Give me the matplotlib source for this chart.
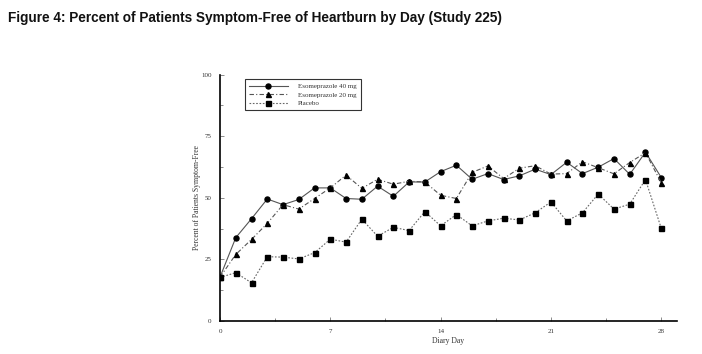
import numpy as np
import matplotlib
matplotlib.use("Agg")
import matplotlib.pyplot as plt
from matplotlib.ticker import MultipleLocator

days = list(range(29))

eso40 = [17.8, 33.8, 41.5, 49.5, 47.2, 49.3, 54.0, 54.0, 49.7, 49.4, 54.7, 50.6, 56.4, 56.4, 60.6,
         63.2, 57.5, 59.8, 57.4, 58.9, 61.6, 59.4, 64.4, 59.8, 62.4, 65.9, 59.5, 68.5, 58.2]
eso20 = [17.8, 27.0, 33.1, 39.6, 47.2, 45.4, 49.7, 54.0, 59.2, 53.8, 57.5, 55.5, 56.7, 56.4, 51.0,
         49.7, 60.3, 62.9, 57.8, 62.0, 63.0, 59.6, 59.8, 64.6, 62.2, 59.7, 64.3, 68.3, 56.1]
placebo = [17.7, 19.6, 15.5, 26.1, 25.9, 25.2, 27.7, 33.2, 32.0, 41.3, 34.4, 38.0, 36.7, 44.4, 38.6,
           43.2, 38.6, 40.6, 41.7, 41.0, 43.9, 48.3, 40.6, 43.9, 51.5, 45.4, 47.4, 57.4, 37.6]

labels = ["Esomeprazole 40 mg", "Esomeprazole 20 mg", "Placebo"]

fig = plt.figure(figsize=(7.02, 3.54), dpi=100)
ax = fig.add_axes([0.3134, 0.0932, 0.651, 0.6963])

lc = "#555555"
ms = 3.6
ax.plot(days, eso40, "-", color=lc, lw=0.8, marker="o", ms=ms, mfc="black", mec="black", label=labels[0])
ax.plot(days, eso20, "-.", color=lc, lw=0.8, marker="^", ms=ms, mfc="black", mec="black", label=labels[1],
        dashes=(4, 2, 1, 2))
ax.plot(days, placebo, "--", color="#666666", lw=0.8, marker="s", ms=ms, mfc="black", mec="black",
        label=labels[2], dashes=(1.5, 1.5))

ax.set_xlim(0, 29)
ax.set_ylim(0, 100)
ax.xaxis.set_major_locator(MultipleLocator(7))
ax.xaxis.set_minor_locator(MultipleLocator(3.5))
ax.yaxis.set_major_locator(MultipleLocator(25))
ax.yaxis.set_minor_locator(MultipleLocator(12.5))
ax.spines["top"].set_visible(False)
ax.spines["right"].set_visible(False)
ax.spines["left"].set_linewidth(1.2)
ax.spines["bottom"].set_linewidth(1.2)
ax.tick_params(which="both", direction="in", width=0.6, color="#777777")
ax.tick_params(which="major", length=3, labelsize=5, pad=6)
ax.tick_params(which="minor", length=2)
for t in ax.get_xticklabels() + ax.get_yticklabels():
    t.set_family("Liberation Serif")
    t.set_color("#333333")

ax.set_xlabel("Diary Day", family="Liberation Serif", fontsize=5.5, color="#333333", labelpad=2)
ax.set_ylabel("Percent of Patients Symptom-Free", family="Liberation Serif", fontsize=5.5,
              color="#333333", labelpad=0)

leg = ax.legend(loc="upper left", bbox_to_anchor=(0.055, 0.98), prop={"family": "Liberation Serif", "size": 5},
                frameon=True, fancybox=False, edgecolor="black", handlelength=5.5, borderpad=0.6,
                labelspacing=0.35, handletextpad=1.5, borderaxespad=0)
leg.get_frame().set_linewidth(0.8)
for t in leg.get_texts():
    t.set_color("#333333")

fig.text(0.012, 0.948, "Figure 4: Percent of Patients Symptom-Free of Heartburn by Day (Study 225)",
         family="Liberation Sans", fontweight="bold", fontsize=9.8,
         va="center", ha="left", color="#111111")

fig.savefig("out.png", dpi=100)
